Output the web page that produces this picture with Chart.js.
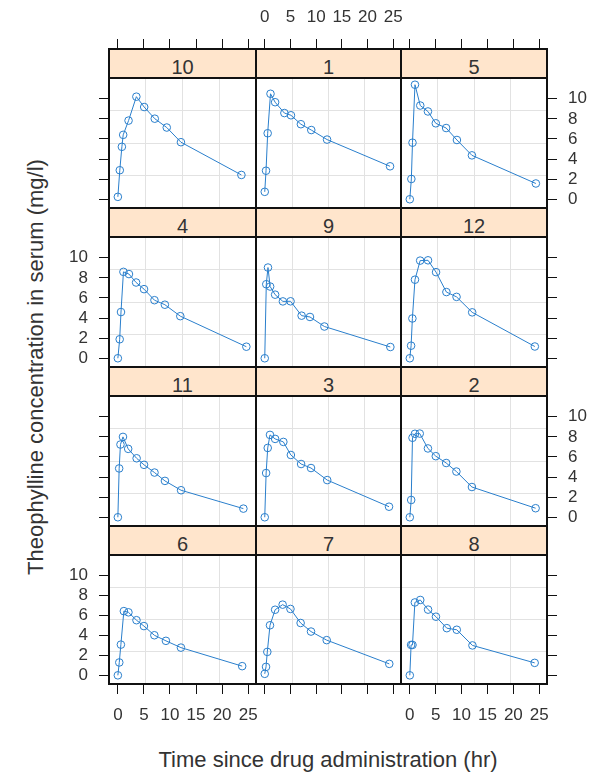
<!DOCTYPE html>
<html><head><meta charset="utf-8">
<script src="https://cdn.jsdelivr.net/npm/chart.js@4.4.1/dist/chart.umd.min.js"></script>
<style>
html,body{margin:0;padding:0;background:#fff;width:593px;height:772px;overflow:hidden;position:relative;font-family:"Liberation Sans",Arial,sans-serif;}
canvas{position:absolute;z-index:1;}
.strip{position:absolute;box-sizing:border-box;background:#ffe5cc;border:2px solid #111;z-index:2;}
.strip span{position:absolute;left:0;right:0;text-align:center;font-size:20px;line-height:20px;color:#333;}
.title{position:absolute;text-align:center;font-size:22px;line-height:22px;color:#333;white-space:nowrap;}
</style></head><body>
<div class="title" style="left:109px;width:438px;top:749px;">Time since drug administration (hr)</div>
<div class="title" style="left:-214px;width:500px;top:356px;transform:rotate(-90deg);">Theophylline concentration in serum (mg/l)</div>
<script>
// ---- data (Theophylline, by subject) ----
const panelOrder = ['10','1','5','4','9','12','11','3','2','6','7','8'];
const time1  = [0, 0.25, 0.57, 1.12, 2.02, 3.82, 5.10, 7.03, 9.05, 12.12, 24.37];
const conc1  = [0.74, 2.84, 6.57, 10.50, 9.66, 8.58, 8.36, 7.47, 6.89, 5.94, 3.28];
const time2  = [0, 0.27, 0.52, 1.00, 1.92, 3.50, 5.02, 7.03, 9.00, 12.00, 24.30];
const conc2  = [0.00, 1.72, 7.91, 8.31, 8.33, 6.85, 6.08, 5.40, 4.55, 3.01, 0.90];
const time3  = [0, 0.27, 0.58, 1.02, 2.02, 3.62, 5.08, 7.07, 9.00, 12.15, 24.17];
const conc3  = [0.00, 4.40, 6.90, 8.20, 7.80, 7.50, 6.20, 5.30, 4.90, 3.70, 1.05];
const time4  = [0, 0.35, 0.60, 1.07, 2.13, 3.50, 5.02, 7.02, 9.02, 11.98, 24.65];
const conc4  = [0.00, 1.89, 4.60, 8.60, 8.38, 7.54, 6.88, 5.78, 5.33, 4.19, 1.15];
const time5  = [0, 0.30, 0.52, 1.00, 2.02, 3.50, 5.02, 7.02, 9.10, 12.00, 24.35];
const conc5  = [0.00, 2.02, 5.63, 11.40, 9.33, 8.74, 7.56, 7.09, 5.90, 4.37, 1.57];
const time6  = [0, 0.27, 0.58, 1.15, 2.03, 3.57, 5.00, 7.00, 9.22, 12.10, 23.85];
const conc6  = [0.00, 1.29, 3.08, 6.44, 6.32, 5.53, 4.94, 4.02, 3.46, 2.78, 0.92];
const time7  = [0, 0.25, 0.50, 1.02, 2.02, 3.48, 5.00, 6.98, 9.00, 12.05, 24.22];
const conc7  = [0.15, 0.85, 2.35, 5.02, 6.58, 7.09, 6.66, 5.25, 4.39, 3.53, 1.15];
const time8  = [0, 0.25, 0.52, 0.98, 2.02, 3.53, 5.05, 7.15, 9.07, 12.10, 24.12];
const conc8  = [0.00, 3.05, 3.05, 7.31, 7.56, 6.59, 5.88, 4.73, 4.57, 3.00, 1.25];
const time9  = [0, 0.30, 0.63, 1.05, 2.02, 3.53, 5.02, 7.17, 8.80, 11.60, 24.43];
const conc9  = [0.00, 7.37, 9.03, 7.14, 6.33, 5.66, 5.67, 4.24, 4.11, 3.16, 1.12];
const time10 = [0, 0.37, 0.77, 1.02, 2.05, 3.55, 5.05, 7.08, 9.38, 12.10, 23.70];
const conc10 = [0.24, 2.89, 5.22, 6.41, 7.83, 10.21, 9.18, 8.02, 7.14, 5.68, 2.42];
const time11 = [0, 0.25, 0.50, 0.98, 1.98, 3.60, 5.02, 7.03, 9.03, 12.12, 24.08];
const conc11 = [0.00, 4.86, 7.24, 8.00, 6.81, 5.87, 5.22, 4.45, 3.62, 2.69, 0.86];
const time12 = [0, 0.25, 0.50, 1.00, 2.00, 3.52, 5.07, 7.07, 9.03, 12.05, 24.15];
const conc12 = [0.00, 1.25, 3.96, 7.82, 9.72, 9.75, 8.57, 6.59, 6.11, 4.57, 1.17];
const xTicks = [0, 5, 10, 15, 20, 25];
const yTicks = [0, 2, 4, 6, 8, 10];
const xRange = [-1.7, 26.5];
const yRange = [-0.87, 12.07];

const timeOf = {'1':time1,'2':time2,'3':time3,'4':time4,'5':time5,'6':time6,'7':time7,'8':time8,'9':time9,'10':time10,'11':time11,'12':time12};
const concOf = {'1':conc1,'2':conc2,'3':conc3,'4':conc4,'5':conc5,'6':conc6,'7':conc7,'8':conc8,'9':conc9,'10':conc10,'11':conc11,'12':conc12};

// ---- layout ----
const M = 90;
const cols = [109, 256, 401, 547];
const rows = [49, 208, 367, 526, 684];
const SH = 29;
const lineColor = '#2a7fcc';
const textColor = '#333';
const frameColor = '#111';
Chart.defaults.font.family = "'Liberation Sans', Arial, sans-serif";
const tickFont = {size: 17};

function edgeAxis(pos, axis, size, showTicks, showLabels, tickVals, range, weight) {
  return {
    type: 'linear', position: pos, axis: axis, min: range[0], max: range[1], weight: weight, display: true,
    afterBuildTicks: s => { s.ticks = tickVals.map(v => ({value: v})); },
    afterFit: s => { if (axis === 'x') s.height = size; else s.width = size; },
    grid: {display: showTicks, drawOnChartArea: false, drawTicks: true, tickLength: 10, color: frameColor, lineWidth: 1},
    border: {display: true, color: frameColor, width: 2},
    ticks: {display: showLabels, font: tickFont, color: textColor, padding: 11, maxRotation: 0, autoSkip: false}
  };
}
function gridAxis(pos, axis, range) {
  return {
    type: 'linear', position: pos, axis: axis, min: range[0], max: range[1], weight: 0, display: true,
    afterBuildTicks: s => { s.ticks = [1, 2, 3].map(k => ({value: s.min + k * (s.max - s.min) / 4})); },
    afterFit: s => { if (axis === 'x') s.height = 0; else s.width = 0; },
    grid: {display: true, drawOnChartArea: true, drawTicks: false, color: '#e2e2e2', lineWidth: 1},
    border: {display: false},
    ticks: {display: false}
  };
}
function spacerAxis(size) {
  return {
    type: 'linear', position: 'top', axis: 'x', min: 0, max: 1, weight: 0, display: true,
    afterBuildTicks: s => { s.ticks = []; },
    afterFit: s => { s.height = size; },
    grid: {display: false}, border: {display: true, color: frameColor, width: 2}, ticks: {display: false}
  };
}

panelOrder.forEach((id, i) => {
  const r = Math.floor(i / 3), c = i % 3;
  const pl = cols[c], pr = cols[c + 1];
  const pt = rows[r] + SH, pb = rows[r + 1];
  const W = pr - pl + 2 * M, H = pb - pt + 2 * M;
  const cv = document.createElement('canvas');
  cv.width = W; cv.height = H;
  cv.style.left = (pl - M) + 'px'; cv.style.top = (pt - M) + 'px';
  cv.style.width = W + 'px'; cv.style.height = H + 'px';
  document.body.appendChild(cv);

  const st = document.createElement('div');
  st.className = 'strip';
  st.style.left = (pl - 1) + 'px'; st.style.top = (rows[r] - 1) + 'px';
  st.style.width = (pr - pl + 2) + 'px'; st.style.height = (SH + 2) + 'px';
  const sp = document.createElement('span');
  sp.style.top = '7px';
  sp.textContent = id;
  st.appendChild(sp);
  document.body.appendChild(st);

  const pts = timeOf[id].map((t, k) => ({x: t, y: concOf[id][k]}));
  new Chart(cv, {
    type: 'line',
    data: {datasets: [{
      data: pts, xAxisID: 'x', yAxisID: 'y',
      borderColor: lineColor, borderWidth: 1, tension: 0, fill: false,
      pointRadius: 3.8, pointBorderWidth: 1, pointBorderColor: lineColor,
      pointBackgroundColor: 'rgba(0,0,0,0)', pointStyle: 'circle'
    }]},
    options: {
      responsive: false, maintainAspectRatio: false, animation: false, devicePixelRatio: 1, events: [],
      layout: {padding: 0},
      plugins: {legend: {display: false}, tooltip: {enabled: false}, title: {display: false}},
      scales: {
        xg: gridAxis('bottom', 'x', xRange),
        yg: gridAxis('left', 'y', yRange),
        x: edgeAxis('bottom', 'x', M, r === 3, r === 3 && c !== 1, xTicks, xRange, 1),
        xt: edgeAxis('top', 'x', M - SH, r === 0, r === 0 && c === 1, xTicks, xRange, 1),
        sp: spacerAxis(SH),
        y: edgeAxis('left', 'y', M, c === 0, c === 0 && (r === 1 || r === 3), yTicks, yRange, 1),
        y2: edgeAxis('right', 'y', M, c === 2, c === 2 && (r === 0 || r === 2), yTicks, yRange, 1)
      }
    }
  });
});
</script>
</body></html>
